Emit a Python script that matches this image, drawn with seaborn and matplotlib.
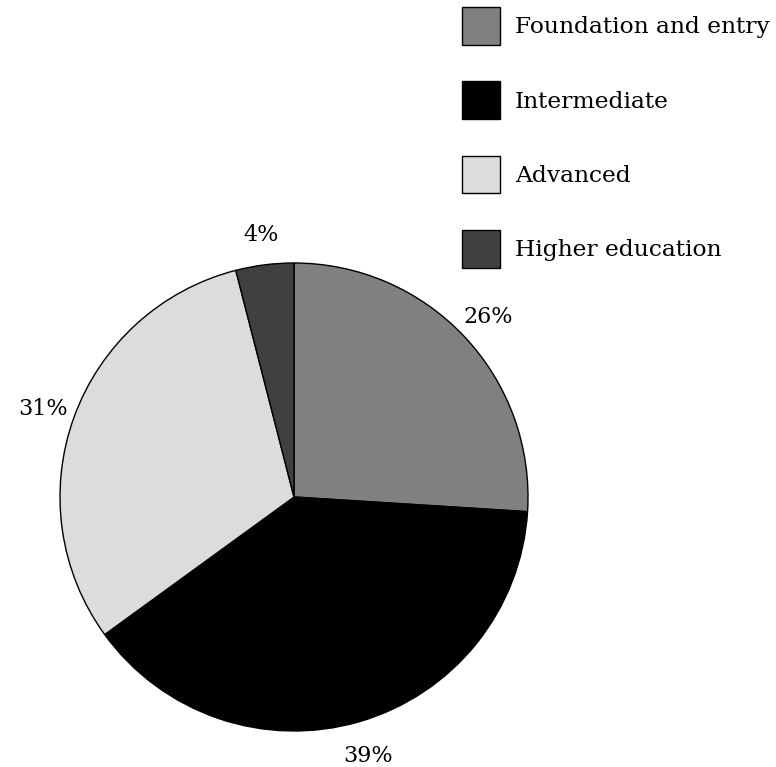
import matplotlib
matplotlib.use("Agg")
import matplotlib.pyplot as plt
import seaborn as sns
from matplotlib.patches import Patch

categories = ["Foundation and entry", "Intermediate", "Advanced", "Higher education"]
values = [26, 39, 31, 4]
colors = ["#808080", "#000000", "#dcdcdc", "#404040"]

sns.set_theme(style="white")
plt.rcParams['font.family'] = ['DejaVu Serif']
plt.rcParams['text.color'] = 'black'

W, H = 776, 767
fig = plt.figure(figsize=(W / 100, H / 100), dpi=100)
cx, cy, R = 294, 497, 234
ax = fig.add_axes([(cx - R) / W, (H - cy - R) / H, 2 * R / W, 2 * R / H])

wedges, texts = ax.pie(values, colors=colors, startangle=90, counterclock=False,
                       labels=[f"{v}%" for v in values], labeldistance=1.14,
                       wedgeprops=dict(edgecolor="black", linewidth=1),
                       textprops=dict(fontsize=16, ha="center", va="center_baseline",
                                      color="black"))
ax.set_xlim(-1, 1)
ax.set_ylim(-1, 1)
ax.set_aspect("equal")
ax.axis("off")

fs = 16.8
handles = [Patch(facecolor=c, edgecolor="black", linewidth=1) for c in colors]
leg = fig.legend(handles, categories, loc="upper left",
                 bbox_to_anchor=(462 / W, 1 - 7 / H), frameon=False, fontsize=fs,
                 handlelength=1.63, handleheight=2.1, handletextpad=0.65,
                 labelspacing=1.58, borderpad=0, borderaxespad=0)
for t in leg.get_texts():
    t.set_color("black")

fig.savefig("out.png", dpi=100)
